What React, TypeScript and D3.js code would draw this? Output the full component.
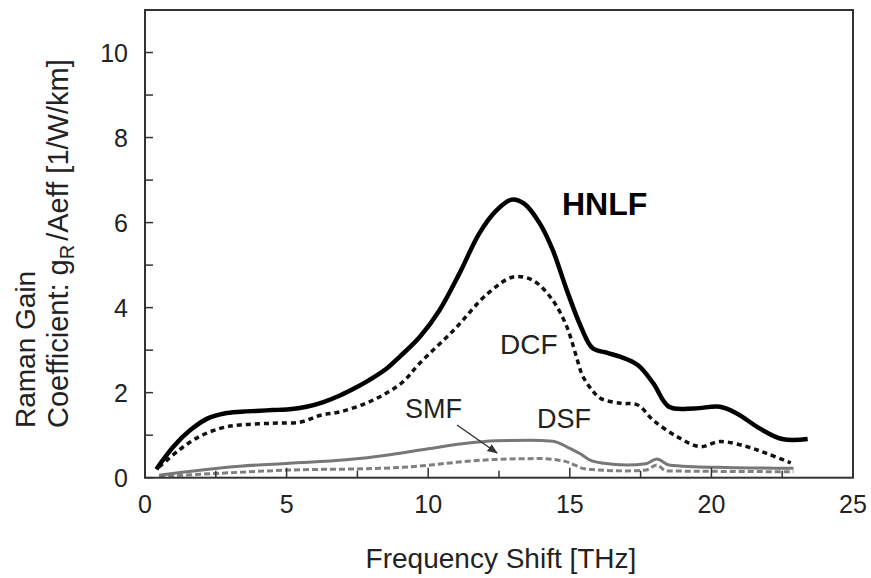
import React from 'react';
import * as d3 from 'd3';

// frequency shift [THz] / gain [1/W/km]
const HNLF_X = [0.4, 1.0, 1.6, 2.2, 2.8, 3.4, 3.9, 4.5, 5.1, 5.7, 6.3, 6.9, 7.5, 7.9, 8.5, 9.0, 9.7, 10.4, 11.1, 11.8, 12.4, 12.95, 13.4, 13.95, 14.4, 14.9, 15.4, 15.8, 16.3, 16.8, 17.4, 17.95, 18.5, 19.4, 20.3, 20.9, 21.7, 22.5, 23.4];
const HNLF_Y = [0.2, 0.73, 1.12, 1.39, 1.51, 1.55, 1.57, 1.59, 1.61, 1.67, 1.78, 1.94, 2.14, 2.29, 2.55, 2.85, 3.31, 3.94, 4.8, 5.74, 6.28, 6.54, 6.44, 5.97, 5.35, 4.4, 3.54, 3.05, 2.94, 2.84, 2.65, 2.22, 1.67, 1.63, 1.67, 1.51, 1.16, 0.91, 0.91];

const DCF_X = [0.5, 1.2, 1.9, 2.65, 3.35, 4.5, 5.5, 6.2, 6.9, 7.8, 8.5, 9.1, 9.7, 10.9, 12.1, 13.0, 13.7, 14.4, 14.9, 15.2, 15.45, 15.8, 16.1, 16.8, 17.4, 17.95, 18.8, 19.6, 20.3, 21.25, 21.95, 22.8];
const DCF_Y = [0.25, 0.65, 0.96, 1.16, 1.24, 1.28, 1.31, 1.47, 1.55, 1.75, 1.98, 2.25, 2.69, 3.47, 4.33, 4.72, 4.64, 4.17, 3.54, 2.92, 2.4, 2.05, 1.86, 1.75, 1.71, 1.35, 0.96, 0.73, 0.85, 0.73, 0.57, 0.35];

const DSF_X = [0.5, 3.35, 5.1, 7.1, 8.65, 10.0, 11.2, 12.4, 13.6, 14.4, 15.0, 15.4, 15.7, 16.2, 17.0, 17.7, 18.07, 18.5, 19.4, 20.5, 22.9];
const DSF_Y = [0.06, 0.27, 0.34, 0.42, 0.54, 0.68, 0.8, 0.87, 0.88, 0.86, 0.69, 0.55, 0.42, 0.34, 0.3, 0.33, 0.44, 0.3, 0.26, 0.24, 0.22];

const SMF_X = [0.5, 2.5, 5.1, 8.3, 9.8, 10.65, 12.4, 13.95, 14.8, 15.6, 17.0, 17.7, 18.07, 18.4, 20.0, 22.9];
const SMF_Y = [0.03, 0.1, 0.18, 0.22, 0.28, 0.34, 0.43, 0.45, 0.39, 0.2, 0.16, 0.18, 0.3, 0.16, 0.15, 0.14];

const X_TICKS = [0, 5, 10, 15, 20, 25];
const X_MINOR = [2.5, 7.5, 12.5, 17.5, 22.5];
const Y_TICKS = [0, 2, 4, 6, 8, 10];
const Y_MINOR = [1, 3, 5, 7, 9];

const FONT = '"Liberation Sans", Arial, Helvetica, sans-serif';

export default function App() {
  const width = 871;
  const height = 578;
  const left = 145, right = 853, top = 10, bottom = 477.7;

  const x = d3.scaleLinear().domain([0, 25]).range([left, right]);
  const y = d3.scaleLinear().domain([0, 11]).range([bottom, top]);

  const zip = (xs: number[], ys: number[]) => xs.map((v, i) => [v, ys[i]] as [number, number]);
  const mkLine = (curve: d3.CurveFactory) => d3.line<[number, number]>()
    .x(d => x(d[0]))
    .y(d => y(d[1]))
    .curve(curve);

  const smooth = mkLine(d3.curveCatmullRom.alpha(0.5));
  const mono = mkLine(d3.curveMonotoneX);

  const series = [
    { key: 'SMF', xs: SMF_X, ys: SMF_Y, stroke: '#808080', w: 3, dash: '6 3', gen: mono },
    { key: 'DSF', xs: DSF_X, ys: DSF_Y, stroke: '#777', w: 3, dash: null, gen: mono },
    { key: 'DCF', xs: DCF_X, ys: DCF_Y, stroke: '#111', w: 3.5, dash: '5 4', gen: smooth },
    { key: 'HNLF', xs: HNLF_X, ys: HNLF_Y, stroke: '#000', w: 4.5, dash: null, gen: smooth },
  ];

  return (
    <svg width={width} height={height} style={{ position: 'absolute', left: 0, top: 0, background: '#fff' }} fontFamily={FONT}>
      <defs>
        <marker id="arr" viewBox="0 0 10 10" refX="9" refY="5" markerWidth="7" markerHeight="7" orient="auto">
          <path d="M0,1 L10,5 L0,9 z" fill="#333" />
        </marker>
      </defs>

      {series.map(s => (
        <path key={s.key} d={s.gen(zip(s.xs, s.ys)) || ''} fill="none" stroke={s.stroke}
          strokeWidth={s.w} strokeDasharray={s.dash || undefined} strokeLinejoin="round" />
      ))}

      {/* frame */}
      <rect x={left} y={top} width={right - left} height={bottom - top} fill="none" stroke="#333" strokeWidth={2} />

      {/* ticks */}
      {X_TICKS.map(t => (
        <g key={'xt' + t}>
          <line x1={x(t)} x2={x(t)} y1={bottom} y2={bottom - 10} stroke="#333" strokeWidth={1.5} />
          <text x={x(t)} y={513} fontSize={25} textAnchor="middle" fill="#222">{t}</text>
        </g>
      ))}
      {X_MINOR.map(t => (
        <line key={'xm' + t} x1={x(t)} x2={x(t)} y1={bottom} y2={bottom - 7} stroke="#333" strokeWidth={1.5} />
      ))}
      {Y_TICKS.map(t => (
        <g key={'yt' + t}>
          <line x1={left} x2={left + 8} y1={y(t)} y2={y(t)} stroke="#333" strokeWidth={1.5} />
          <text x={128} y={y(t) + 9} fontSize={25} textAnchor="end" fill="#222">{t}</text>
        </g>
      ))}
      {Y_MINOR.map(t => (
        <line key={'ym' + t} x1={left} x2={left + 8} y1={y(t)} y2={y(t)} stroke="#333" strokeWidth={1.5} />
      ))}

      {/* axis titles */}
      <text x={501} y={568} fontSize={28} textAnchor="middle" fill="#222">Frequency Shift [THz]</text>
      <text transform="translate(35,428) rotate(-90)" fontSize={28} fill="#222">Raman Gain</text>
      <text transform="translate(68,428) rotate(-90)" fontSize={29} fill="#222">
        Coefficient: g<tspan fontSize={20} dy={6}>R</tspan><tspan dy={-6} dx={4}>/Aeff [1/W/km]</tspan>
      </text>

      {/* curve labels */}
      <text x={562} y={215} fontSize={32} fontWeight="bold" fill="#000">HNLF</text>
      <text x={500} y={354} fontSize={28} fill="#222">DCF</text>
      <text x={405} y={418} fontSize={27} fill="#222">SMF</text>
      <text x={537} y={428} fontSize={27} fill="#222">DSF</text>
      <line x1={457} y1={425} x2={497} y2={453} stroke="#333" strokeWidth={1.5} markerEnd="url(#arr)" />
    </svg>
  );
}
